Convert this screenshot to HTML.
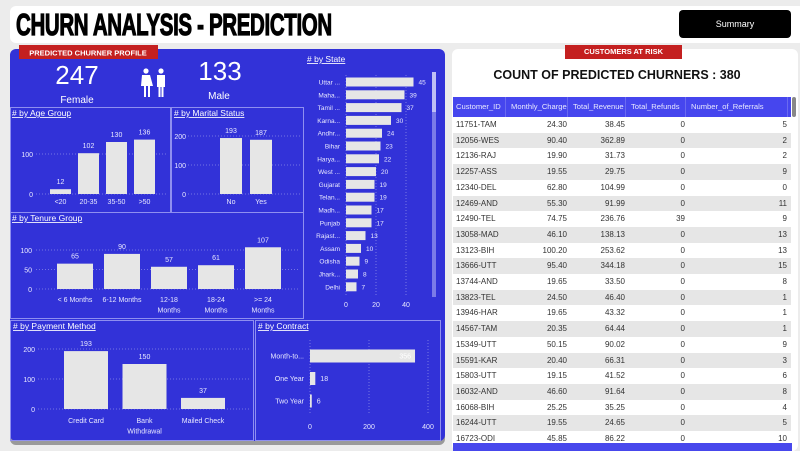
<!DOCTYPE html>
<html><head><meta charset="utf-8">
<style>
body{margin:0;width:800px;height:451px;overflow:hidden;background:#ececec;font-family:"Liberation Sans",sans-serif;position:relative}
.abs{position:absolute}
svg text{font-family:"Liberation Sans",sans-serif}
</style></head><body>
<div class="abs" style="left:10px;top:6px;width:795px;height:37px;background:#fff;border-radius:6px"></div>
<div class="abs" style="left:16px;top:7px;font-weight:bold;font-size:31px;letter-spacing:-0.5px;transform:scaleX(0.66);transform-origin:left;white-space:nowrap;color:#000;-webkit-text-stroke:1.2px #000">CHURN ANALYSIS - PREDICTION</div>
<div class="abs" style="left:679px;top:10px;width:112px;height:28px;background:#000;border-radius:4px;color:#fff;font-size:9px;text-align:center;line-height:28px">Summary</div>

<div class="abs" style="left:10px;top:49px;width:435px;height:392px;background:#3232d8;border-radius:6px;box-shadow:0 4px 0 #9a9a9a"></div>
<div class="abs" style="left:452px;top:49px;width:346px;height:402px;background:#fff;border-radius:6px"></div>

<svg class="abs" style="left:0;top:0" width="800" height="451">
<g id="boxes" fill="none" stroke="#8f8ff0" stroke-width="1">
<rect x="10.5" y="107.5" width="160" height="105"/>
<rect x="171.5" y="107.5" width="132" height="105"/>
<rect x="10.5" y="212.5" width="293" height="106"/>
<rect x="10.5" y="320.5" width="243" height="120"/>
<rect x="255.5" y="320.5" width="185" height="120"/>
</g>
<rect x="19" y="45" width="139" height="14" fill="#c42020"/>
<text x="88" y="55.5" font-size="7.5" font-weight="bold" fill="#fff" text-anchor="middle">PREDICTED CHURNER PROFILE</text>
<text x="77" y="84" font-size="26" fill="#fff" text-anchor="middle">247</text>
<text x="77" y="103" font-size="10" fill="#fff" text-anchor="middle">Female</text>
<text x="220" y="80" font-size="26" fill="#fff" text-anchor="middle">133</text>
<text x="219" y="99" font-size="10" fill="#fff" text-anchor="middle">Male</text>
<g fill="#fff">
<circle cx="146" cy="71" r="2.6"/><path d="M142 75h8l3 11h-3v11h-2v-11h-2v11h-2v-11h-3z"/>
<circle cx="161" cy="71" r="2.6"/><path d="M157 75h8v12h-1.5v10h-2v-10h-1v10h-2v-10h-1.5z"/>
</g>
<g font-size="8.5" fill="#fff" text-decoration="underline">
<text x="12" y="116"># by Age Group</text>
<text x="174" y="116"># by Marital Status</text>
<text x="12" y="221"># by Tenure Group</text>
<text x="13" y="329"># by Payment  Method</text>
<text x="258" y="329"># by Contract</text>
<text x="307" y="62"># by State</text>
</g>
<rect x="432" y="72" width="4" height="225" fill="#7b7be8"/>
<rect x="432" y="72" width="4" height="40" fill="#bfbff5"/>
<g id="charts"></g>
</svg>

<div class="abs" style="left:565px;top:45px;width:117px;height:14px;background:#c42020;color:#fff;font-size:7.5px;font-weight:bold;text-align:center;line-height:14px">CUSTOMERS AT RISK</div>
<div class="abs" style="left:452px;top:68px;width:330px;text-align:center;font-size:12.5px;font-weight:bold;color:#111">COUNT OF PREDICTED CHURNERS : 380</div>
<div class="abs" style="left:453px;top:97px;width:338px;height:346px;overflow:hidden;font-size:8px;color:#333" id="tbl"></div>
<div class="abs" style="left:792px;top:97px;width:4px;height:20px;background:#888;border-radius:2px"></div>
<div class="abs" style="left:453px;top:443px;width:339px;height:8px;background:#4848ec"></div>

<script>
const ageCats=["<20","20-35","35-50",">50"];
const ageVals=[12,102,130,136];
const marCats=["No","Yes"];
const marVals=[193,187];
const tenCats=[["< 6 Months"],["6-12 Months"],["12-18","Months"],["18-24","Months"],[">= 24","Months"]];
const tenVals=[65,90,57,61,107];
const payCats=[["Credit Card"],["Bank","Withdrawal"],["Mailed Check"]];
const payVals=[193,150,37];
const conCats=["Month-to...","One Year","Two Year"];
const conVals=[356,18,6];
const stateCats=["Uttar ...","Maha...","Tamil ...","Karna...","Andhr...","Bihar","Harya...","West ...","Gujarat","Telan...","Madh...","Punjab","Rajast...","Assam","Odisha","Jhark...","Delhi"];
const stateVals=[45,39,37,30,24,23,22,20,19,19,17,17,13,10,9,8,7];
const ageTicks=[0,100],marTicks=[0,100,200],tenTicks=[0,50,100],payTicks=[0,100,200],conTicks=[0,200,400],stateTicks=[0,20,40];

const NS="http://www.w3.org/2000/svg",G=document.getElementById('charts');
function el(t,a,txt){const e=document.createElementNS(NS,t);for(const k in a)e.setAttribute(k,a[k]);if(txt!==undefined)e.textContent=txt;G.appendChild(e);return e;}
const BAR="#e6e6e6",LBL="#e8e8ff";
function vchart(name,cats,vals,ticks,y0,scale,x0,step,bw,gx1,gx2,tx,ly){
  const y=v=>y0-v*scale;
  ticks.forEach(t=>{
    const l=el('line',{x1:gx1,x2:gx2,y1:y(t),y2:y(t),stroke:'#8a8ae8','stroke-dasharray':'1,2','stroke-width':0.8});
    
    const tt=el('text',{x:tx,y:y(t)+3,'font-size':7,fill:LBL,'text-anchor':'end'},t);
    
  });
  vals.forEach((v,i)=>{
    const bx=x0+i*step;
    const r=el('rect',{x:bx,y:y(v),width:bw,height:v*scale,fill:BAR});
    
    const vt=el('text',{x:bx+bw/2,y:y(v)-5,'font-size':7,fill:LBL,'text-anchor':'middle'},v);
    
    const c=Array.isArray(cats[i])?cats[i]:[cats[i]];
    c.forEach((s,j)=>{const ct=el('text',{x:bx+bw/2,y:ly+j*10.5,'font-size':7,fill:LBL,'text-anchor':'middle'},s);
      });
  });
}
vchart('age',ageCats,ageVals,ageTicks,194,0.4,50,28,21,36,168,33,204);
vchart('marital',marCats,marVals,marTicks,194,0.29,220,30,22,188,300,186,204);
vchart('tenure',tenCats,tenVals,tenTicks,289,0.39,57,47,36,36,300,32,302);
vchart('payment',payCats,payVals,payTicks,409,0.3,64,58.5,44,38,250,35,423);

function hchart(name,cats,vals,ticks,x0,scale,yc0,step,bh,gy1,gy2,ty,lx,fs,inside){
  const x=v=>x0+v*scale;
  ticks.forEach(t=>{
    const l=el('line',{x1:x(t),x2:x(t),y1:gy1,y2:gy2,stroke:'#8a8ae8','stroke-dasharray':'1,2','stroke-width':0.8});
    
    const tt=el('text',{x:x(t),y:ty,'font-size':7,fill:LBL,'text-anchor':'middle'},t);
    
  });
  vals.forEach((v,i)=>{
    const cy=yc0+i*step;
    const r=el('rect',{x:x0,y:cy-bh/2,width:v*scale,height:bh,fill:BAR});
    
    const inn=inside&&v*scale>60;
    const vt=el('text',{x:inn?x(v)-4:x(v)+5,y:cy+2.5,'font-size':fs,fill:inn?'#fff':LBL,'text-anchor':inn?'end':'start'},v);
    
    const ct=el('text',{x:lx,y:cy+2.5,'font-size':fs,fill:LBL,'text-anchor':'end'},cats[i]);
    
  });
}
hchart('state',stateCats,stateVals,stateTicks,346,1.5,82,12.8,9,75,295,307,340,6.5,false);
hchart('contract',conCats,conVals,conTicks,310,0.295,356,22.5,13,340,415,429,304,7,true);

const ids=["11751-TAM","12056-WES","12136-RAJ","12257-ASS","12340-DEL","12469-AND","12490-TEL","13058-MAD","13123-BIH","13666-UTT","13744-AND","13823-TEL","13946-HAR","14567-TAM","15349-UTT","15591-KAR","15803-UTT","16032-AND","16068-BIH","16244-UTT","16723-ODI"];
const charges=["24.30","90.40","19.90","19.55","62.80","55.30","74.75","46.10","100.20","95.40","19.65","24.50","19.65","20.35","50.15","20.40","19.15","46.60","25.25","19.55","45.85"];
const revenue=["38.45","362.89","31.73","29.75","104.99","91.99","236.76","138.13","253.62","344.18","33.50","46.40","43.32","64.44","90.02","66.31","41.52","91.64","35.25","24.65","86.22"];
const refunds=[0,0,0,0,0,0,39,0,0,0,0,0,0,0,0,0,0,0,0,0,0];
const referrals=[5,2,2,9,0,11,9,13,13,15,8,1,1,1,9,3,6,8,4,5,10];
const T=document.getElementById('tbl');
const cols=[[0,55,'left'],[55,117,'right'],[117,175,'right'],[175,235,'right'],[235,337,'right']];
const heads=["Customer_ID","Monthly_Charge","Total_Revenue","Total_Refunds","Number_of_Referrals"];
function cell(parent,txt,i,top,h,extra){const d=document.createElement('div');d.className='abs';d.textContent=txt;
  const [a,b,al]=cols[i];d.style.cssText=`left:${a+3}px;width:${b-a-6}px;top:${top}px;height:${h}px;line-height:${h}px;text-align:${al};white-space:nowrap;${extra||''}`;
  
  
  parent.appendChild(d);}
const hd=document.createElement('div');hd.className='abs';hd.style.cssText='left:0;top:0;width:338px;height:20px;background:#4646ee;color:#e8e8ff';


T.appendChild(hd);
heads.forEach((h,i)=>cell(hd,h,i,0,20,'text-align:left;font-size:7.6px;border-right:1px solid #6a6af0'));
ids.forEach((id,r)=>{
  const row=document.createElement('div');row.className='abs';
  row.style.cssText=`left:0;top:${20+r*15.7}px;width:338px;height:15.7px;background:${r%2?'#e6e6e6':'#fff'}`;
  
  
  T.appendChild(row);
  [id,charges[r],revenue[r],refunds[r],referrals[r]].forEach((v,i)=>cell(row,v,i,0,15.7,i==3?'text-align:right':''));
});
</script>
</body></html>
